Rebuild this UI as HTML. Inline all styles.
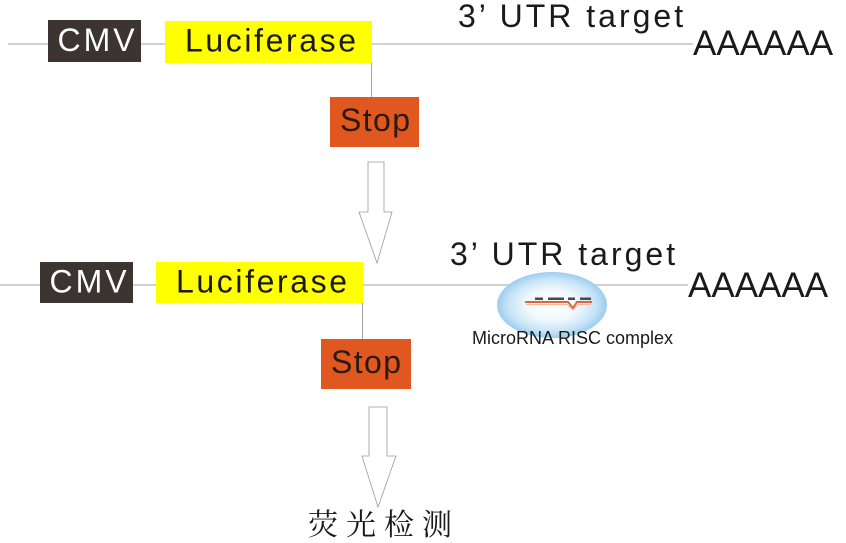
<!DOCTYPE html>
<html>
<head>
<meta charset="utf-8">
<style>
  html, body { margin: 0; padding: 0; background: #ffffff; }
  body { width: 846px; height: 543px; overflow: hidden; }
  svg { display: block; }
  .t { font-family: "Liberation Sans", Arial, sans-serif; }
</style>
</head>
<body>
<svg width="846" height="543" viewBox="0 0 846 543" xmlns="http://www.w3.org/2000/svg">
  <defs>
    <radialGradient id="risc" cx="50%" cy="50%" r="50%">
      <stop offset="0%" stop-color="#ffffff"/>
      <stop offset="45%" stop-color="#f2f9fe"/>
      <stop offset="80%" stop-color="#c6e4f7"/>
      <stop offset="100%" stop-color="#9ccdee"/>
    </radialGradient>
  </defs>

  <!-- ===== Top construct ===== -->
  <line x1="8" y1="44" x2="693" y2="44" stroke="#a3a3a3" stroke-width="1"/>
  <line x1="371.5" y1="44" x2="371.5" y2="97" stroke="#a3a3a3" stroke-width="1"/>

  <rect x="48" y="20" width="93" height="42" fill="#3b3431"/>
  <text class="t" x="57.5" y="51" font-size="32" fill="#ffffff" style="letter-spacing:3px">CMV</text>

  <rect x="165" y="21" width="207" height="42" fill="#ffff00"/>
  <text class="t" x="185" y="51.5" font-size="32" fill="#1a1a1a" style="letter-spacing:2.6px">Luciferase</text>

  <rect x="330" y="97" width="89" height="50" fill="#e0571f"/>
  <text class="t" x="340" y="131" font-size="32" fill="#2a1a12" style="letter-spacing:1.4px">Stop</text>

  <text class="t" x="458" y="27" font-size="32" fill="#1a1a1a" style="letter-spacing:3px">3’ UTR target</text>
  <text class="t" x="693" y="55" font-size="35" fill="#1a1a1a">AAAAAA</text>

  <!-- Arrow 1 -->
  <polygon points="368,162 384,162 384,212 392,212 377,263 359,212 368,212"
           fill="#ffffff" stroke="#9a9a9a" stroke-width="0.8"/>

  <!-- ===== Bottom construct ===== -->
  <line x1="0" y1="285" x2="688" y2="285" stroke="#a3a3a3" stroke-width="1"/>
  <line x1="362.5" y1="285" x2="362.5" y2="339" stroke="#a3a3a3" stroke-width="1"/>

  <rect x="40" y="262" width="93" height="41" fill="#3b3431"/>
  <text class="t" x="49.5" y="292.5" font-size="32" fill="#ffffff" style="letter-spacing:3px">CMV</text>

  <rect x="156" y="262" width="207" height="41" fill="#ffff00"/>
  <text class="t" x="176" y="292.5" font-size="32" fill="#1a1a1a" style="letter-spacing:2.6px">Luciferase</text>

  <rect x="321" y="339" width="90" height="50" fill="#e0571f"/>
  <text class="t" x="331" y="373" font-size="32" fill="#2a1a12" style="letter-spacing:1.4px">Stop</text>

  <text class="t" x="450" y="265" font-size="32" fill="#1a1a1a" style="letter-spacing:3px">3’ UTR target</text>
  <text class="t" x="688" y="297" font-size="35" fill="#1a1a1a">AAAAAA</text>

  <!-- RISC complex ellipse -->
  <ellipse cx="552" cy="305" rx="55" ry="33" fill="url(#risc)"/>
  <!-- microRNA duplex detail -->
  <g fill="#4a4a4a">
    <rect x="535" y="297.5" width="8" height="2.5"/>
    <rect x="548" y="297.5" width="16" height="2.5"/>
    <rect x="568" y="297.5" width="7" height="2.5"/>
    <rect x="580" y="297.5" width="11" height="2.5"/>
  </g>
  <polyline points="525,302 568,302 573,308 577,302 592,302" fill="none" stroke="#d8673f" stroke-width="2"/>
  <polyline points="526,304.5 567,304.5 573,310 578,304.5 591,304.5" fill="none" stroke="#f2b9a0" stroke-width="1.2"/>

  <text class="t" x="472" y="344" font-size="18" fill="#1a1a1a">MicroRNA RISC complex</text>

  <!-- Arrow 2 -->
  <polygon points="369,407 387,407 387,456 396,456 378,507 362,456 369,456"
           fill="#ffffff" stroke="#9a9a9a" stroke-width="0.8"/>

  <text x="308" y="535" font-size="30" fill="#1a1a1a"
        style="font-family:'Noto Serif CJK SC','Liberation Serif',serif; letter-spacing:8px">荧光检测</text>
</svg>
</body>
</html>
